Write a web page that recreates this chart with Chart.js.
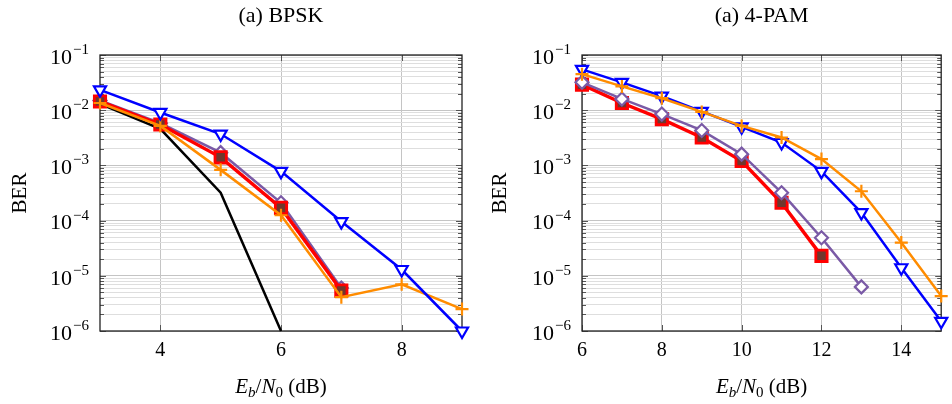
<!DOCTYPE html>
<html>
<head>
<meta charset="utf-8">
<script src="https://cdn.jsdelivr.net/npm/chart.js@4/dist/chart.umd.min.js"></script>
<style>
body { margin: 0; background: #fff; }
#wrap { position: relative; width: 952px; height: 404px; }
canvas { position: absolute; top: 0; }
#canvasBpsk { left: 0; }
#canvasPam { left: 476px; }
</style>
</head>
<body>
<div id="wrap">
<canvas id="canvasBpsk" width="476" height="404" style="width:476px;height:404px"></canvas>
<canvas id="canvasPam" width="476" height="404" style="width:476px;height:404px"></canvas>
</div>
<script>
// ---- data ----
var titleBpsk = "(a) BPSK";
var titlePam = "(a) 4-PAM";

// BPSK panel
var snrBpsk = [3, 4, 5, 6, 7, 8, 9];
var bpskBlue = [0.0233, 0.0091, 0.0037, 7.8e-4, 9.6e-5, 1.3e-5, 1.0e-6];
var bpskPurple = [0.0150, 0.0058, 0.0017, 2.1e-4, 6.0e-6];
var bpskRed = [0.0144, 0.0055, 0.0014, 1.7e-4, 5.4e-6];
var bpskOrange = [0.0135, 0.0052, 8.3e-4, 1.25e-4, 4.1e-6, 7.0e-6, 2.5e-6];
var bpskBlack = [0.0130, 0.0046, 3.2e-4, 1.0e-6];
var xTicksBpsk = [4, 6, 8];

// 4-PAM panel
var snrPam = [6, 7, 8, 9, 10, 11, 12, 13, 14, 15];
var pamBlue = [0.055, 0.032, 0.018, 0.0095, 0.0050, 0.0026, 7.8e-4, 1.4e-4, 1.4e-5, 1.5e-6];
var pamOrange = [0.045, 0.027, 0.0165, 0.0093, 0.0052, 0.0032, 0.0013, 3.4e-4, 4.0e-5, 4.3e-6];
var pamPurple = [0.032, 0.016, 0.0085, 0.0043, 0.0016, 3.2e-4, 4.9e-5, 6.3e-6];
var pamRed = [0.029, 0.0135, 0.0069, 0.0032, 0.0012, 2.1e-4, 2.3e-5];
var xTicksPam = [6, 8, 10, 12, 14];

// y axis: decades 1e-6 .. 1e-1 with minor lines
var yDecades = [-6, -5, -4, -3, -2, -1];

var serif = "'Liberation Serif', 'Times New Roman', serif";

// build log grid ticks
function buildYTicks() {
    var list = [];
    for (var i = 0; i < yDecades.length; i++) {
        var e = yDecades[i];
        if (i == yDecades.length - 1) {
            list.push({ value: Math.pow(10, e), major: true });
            break;
        }
        for (var m = 1; m <= 9; m++) {
            list.push({ value: Number((m * Math.pow(10, e)).toPrecision(3)), major: m == 1 });
        }
    }
    return list;
}

function toPoints(xs, ys) {
    var pts = [];
    for (var i = 0; i < ys.length; i++) {
        pts.push({ x: xs[i], y: ys[i] });
    }
    return pts;
}

function series(xs, ys, color, width, style, radius, fillColor, order, rotation) {
    return {
        data: toPoints(xs, ys),
        borderColor: color,
        backgroundColor: fillColor,
        borderWidth: width,
        pointStyle: style,
        pointRadius: radius,
        pointBorderColor: color,
        pointBackgroundColor: fillColor,
        pointBorderWidth: style == "rect" ? 2.8 : 2.2,
        pointRotation: rotation || 0,
        tension: 0,
        fill: false,
        clip: false,
        order: order
    };
}

// frame, inner ticks, tick labels and titles
var decor = {
    id: "decor",
    beforeDatasetsDraw: function (chart) {
        var ctx = chart.ctx, a = chart.chartArea;
        var xs = chart.scales.x, ys = chart.scales.y;
        ctx.save();
        ctx.strokeStyle = "#555";
        ctx.lineWidth = 1;
        ctx.beginPath();
        ys.ticks.forEach(function (t) {
            var py = Math.round(ys.getPixelForValue(t.value)) + 0.5;
            var len = t.major ? 6 : 4;
            ctx.moveTo(a.left, py); ctx.lineTo(a.left + len, py);
            ctx.moveTo(a.right - len, py); ctx.lineTo(a.right, py);
        });
        xs.ticks.forEach(function (t) {
            var px = Math.round(xs.getPixelForValue(t.value)) + 0.5;
            ctx.moveTo(px, a.top); ctx.lineTo(px, a.top + 6);
            ctx.moveTo(px, a.bottom); ctx.lineTo(px, a.bottom - 6);
        });
        ctx.stroke();
        ctx.strokeStyle = "#222";
        ctx.lineWidth = 1.3;
        ctx.strokeRect(a.left, a.top, a.right - a.left, a.bottom - a.top);
        ctx.restore();
    },
    afterDraw: function (chart) {
        var ctx = chart.ctx, a = chart.chartArea;
        var ys = chart.scales.y;
        var cx = (a.left + a.right) / 2;
        ctx.save();
        ctx.fillStyle = "#000";

        // panel title
        ctx.font = "22px " + serif;
        ctx.textAlign = "center";
        ctx.textBaseline = "middle";
        ctx.fillText(chart.options.panelTitle, cx, 16);

        // y tick labels 10^k
        ys.ticks.forEach(function (t) {
            if (!t.major) return;
            var py = ys.getPixelForValue(t.value);
            var sup = "\u2212" + Math.abs(Math.round(Math.log10(t.value)));
            ctx.textAlign = "right";
            ctx.font = "15px " + serif;
            var w = ctx.measureText(sup).width;
            ctx.fillText(sup, a.left - 11, py - 5);
            ctx.font = "22px " + serif;
            ctx.fillText("10", a.left - 12 - w, py + 3);
        });

        // x title E_b/N_0 (dB)
        var parts = [
            { t: "E", f: "italic 21px ", dy: 0 },
            { t: "b", f: "italic 15px ", dy: 4 },
            { t: "/", f: "21px ", dy: 0 },
            { t: "N", f: "italic 21px ", dy: 0 },
            { t: "0", f: "15px ", dy: 4 },
            { t: " (dB)", f: "21px ", dy: 0 }
        ];
        var total = 0;
        parts.forEach(function (p) {
            ctx.font = p.f + serif;
            p.w = ctx.measureText(p.t).width;
            total += p.w;
        });
        var x = cx - total / 2;
        ctx.textAlign = "left";
        ctx.textBaseline = "alphabetic";
        parts.forEach(function (p) {
            ctx.font = p.f + serif;
            ctx.fillText(p.t, x, 393 + p.dy);
            x += p.w;
        });
        ctx.restore();
    }
};

function makeOptions(title, xMin, xMax, xTicks, yWidth, padRight, berPad) {
    return {
        responsive: false,
        animation: false,
        panelTitle: title,
        layout: { padding: { top: 55, right: padRight, bottom: 0, left: 0 } },
        plugins: { legend: { display: false }, tooltip: { enabled: false } },
        scales: {
            x: {
                type: "linear",
                min: xMin,
                max: xMax,
                afterBuildTicks: function (scale) {
                    scale.ticks = xTicks.map(function (v) { return { value: v }; });
                },
                afterFit: function (scale) { scale.height = 73; },
                grid: { color: "#c4c4c4", lineWidth: 1, drawTicks: false },
                border: { display: false },
                ticks: { color: "#000", padding: 8, font: { family: serif, size: 20 }, maxRotation: 0 }
            },
            y: {
                type: "logarithmic",
                min: 1e-6,
                max: 1e-1,
                afterBuildTicks: function (scale) { scale.ticks = buildYTicks(); },
                afterFit: function (scale) { scale.width = yWidth; },
                grid: {
                    color: function (c) { return c.tick && c.tick.major ? "#c4c4c4" : "#dedede"; },
                    lineWidth: 1,
                    drawTicks: false
                },
                border: { display: false },
                ticks: { display: false },
                title: {
                    display: true,
                    text: "BER",
                    color: "#000",
                    font: { family: serif, size: 21 },
                    padding: { top: berPad, bottom: 0 }
                }
            }
        }
    };
}

function main() {
    var blue = "#0000ff", red = "#ff0000", purple = "#7a5aa6", orange = "#ff8c00";
    var fillRed = "rgb(110,55,45)";

    var bpskSets = [
        series(snrBpsk, bpskBlue, blue, 2.5, "triangle", 7, "#ffffff", 1, 180),
        series(snrBpsk, bpskOrange, orange, 2.5, "cross", 6.5, orange, 2),
        series(snrBpsk, bpskRed, red, 3.5, "rect", 8, fillRed, 3),
        series(snrBpsk, bpskPurple, purple, 2.5, "rectRot", 6.5, "#ffffff", 4),
        series(snrBpsk, bpskBlack, "#000000", 2.5, "circle", 0, "#000000", 5)
    ];
    var pamSets = [
        series(snrPam, pamBlue, blue, 2.5, "triangle", 7, "#ffffff", 2, 180),
        series(snrPam, pamOrange, orange, 2.5, "cross", 6.5, orange, 1),
        series(snrPam, pamRed, red, 3.5, "rect", 8, fillRed, 4),
        series(snrPam, pamPurple, purple, 2.5, "rectRot", 6.5, "#ffffff", 3)
    ];

    new Chart(document.getElementById("canvasBpsk").getContext("2d"), {
        type: "line",
        data: { datasets: bpskSets },
        options: makeOptions(titleBpsk, 3, 9, xTicksBpsk, 100, 14, 8),
        plugins: [decor]
    });
    new Chart(document.getElementById("canvasPam").getContext("2d"), {
        type: "line",
        data: { datasets: pamSets },
        options: makeOptions(titlePam, 6, 15, xTicksPam, 106, 8, 12),
        plugins: [decor]
    });
}

main();
</script>
</body>
</html>
